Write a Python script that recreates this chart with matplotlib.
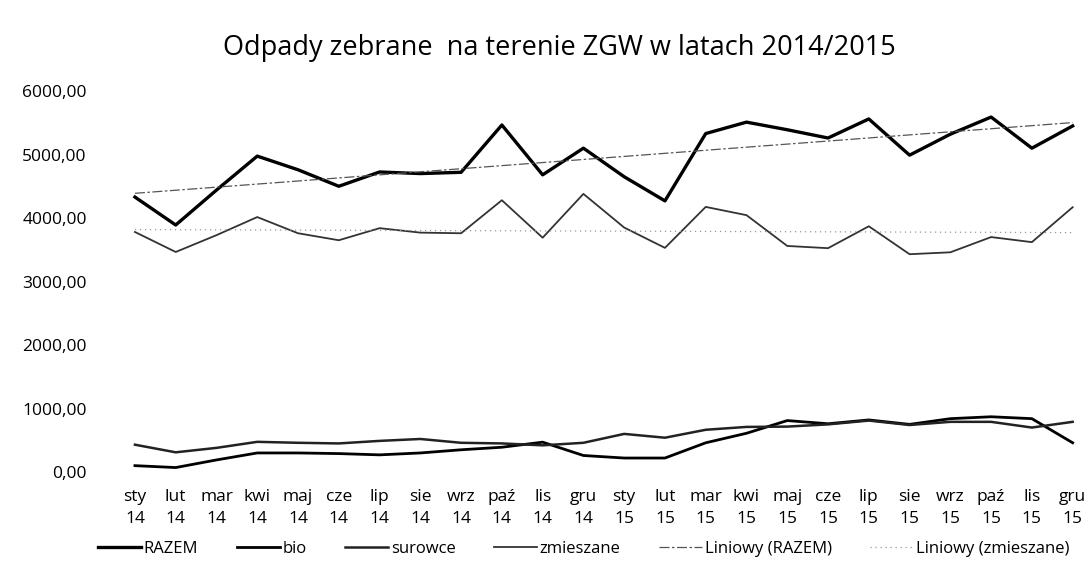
import matplotlib.pyplot as plt
import numpy as np
from matplotlib.ticker import FuncFormatter

plt.rcParams['font.family'] = ['Open Sans', 'DejaVu Sans']

months = ["sty", "lut", "mar", "kwi", "maj", "cze", "lip", "sie", "wrz", "paź", "lis", "gru"]
labels = [f"{m}\n14" for m in months] + [f"{m}\n15" for m in months]

razem = [4330, 3890, 4440, 4975, 4760, 4500, 4725, 4700, 4720, 5465, 4680, 5100,
         4650, 4270, 5330, 5510, 5390, 5260, 5560, 4990, 5320, 5590, 5100, 5450]
bio = [100, 70, 190, 300, 300, 290, 270, 300, 350, 390, 470, 260,
       220, 220, 460, 610, 810, 760, 820, 750, 840, 870, 840, 460]
surowce = [430, 310, 380, 475, 460, 450, 490, 520, 460, 450, 420, 460,
           600, 540, 665, 710, 715, 750, 810, 740, 790, 790, 700, 790]
zmieszane = [3780, 3465, 3730, 4015, 3760, 3650, 3840, 3770, 3760, 4280, 3690, 4380,
             3850, 3530, 4175, 4045, 3560, 3525, 3870, 3430, 3460, 3700, 3620, 4170]

x = np.arange(len(labels))

fig = plt.figure(figsize=(10.91, 5.65), dpi=100)
ax = fig.add_axes([0.105, 0.1646, 0.895, 0.6743])

ax.plot(x, razem, color="black", lw=2.4, label="RAZEM")
ax.plot(x, bio, color="black", lw=2.0, label="bio")
ax.plot(x, surowce, color="#222222", lw=1.8, label="surowce")
ax.plot(x, zmieszane, color="#333333", lw=1.3, label="zmieszane")

# linear trend lines, as in Excel
p1 = np.polyfit(x, razem, 1)
ax.plot(x, np.polyval(p1, x), color="#555555", lw=0.9, ls=(0, (8, 2, 2, 2)),
        label="Liniowy (RAZEM)")
p2 = np.polyfit(x, zmieszane, 1)
ax.plot(x, np.polyval(p2, x), color="#999999", lw=0.9, ls=(0, (1, 3)),
        label="Liniowy (zmieszane)")

ax.set_xlim(-0.5, 23.45)
ax.set_ylim(0, 6000)
ax.set_yticks(np.arange(0, 6001, 1000))
ax.yaxis.set_major_formatter(FuncFormatter(lambda v, p: f"{v:.2f}".replace(".", ",")))
ax.set_xticks(x)
ax.set_xticklabels(labels, fontsize=12.5, linespacing=1.5)
ax.tick_params(axis="y", labelsize=12.5, length=0, pad=20)
ax.tick_params(axis="x", length=0, pad=12)
for s in ax.spines.values():
    s.set_visible(False)

fig.suptitle("Odpady zebrane  na terenie ZGW w latach 2014/2015", fontsize=19.5, x=0.513, y=0.94)

fig.legend(loc="center", bbox_to_anchor=(0.535, 0.028), ncol=6, frameon=False,
           fontsize=12, handlelength=2.6, handletextpad=0.15, columnspacing=2.3)

plt.savefig("out.png", dpi=100)
plt.close()
